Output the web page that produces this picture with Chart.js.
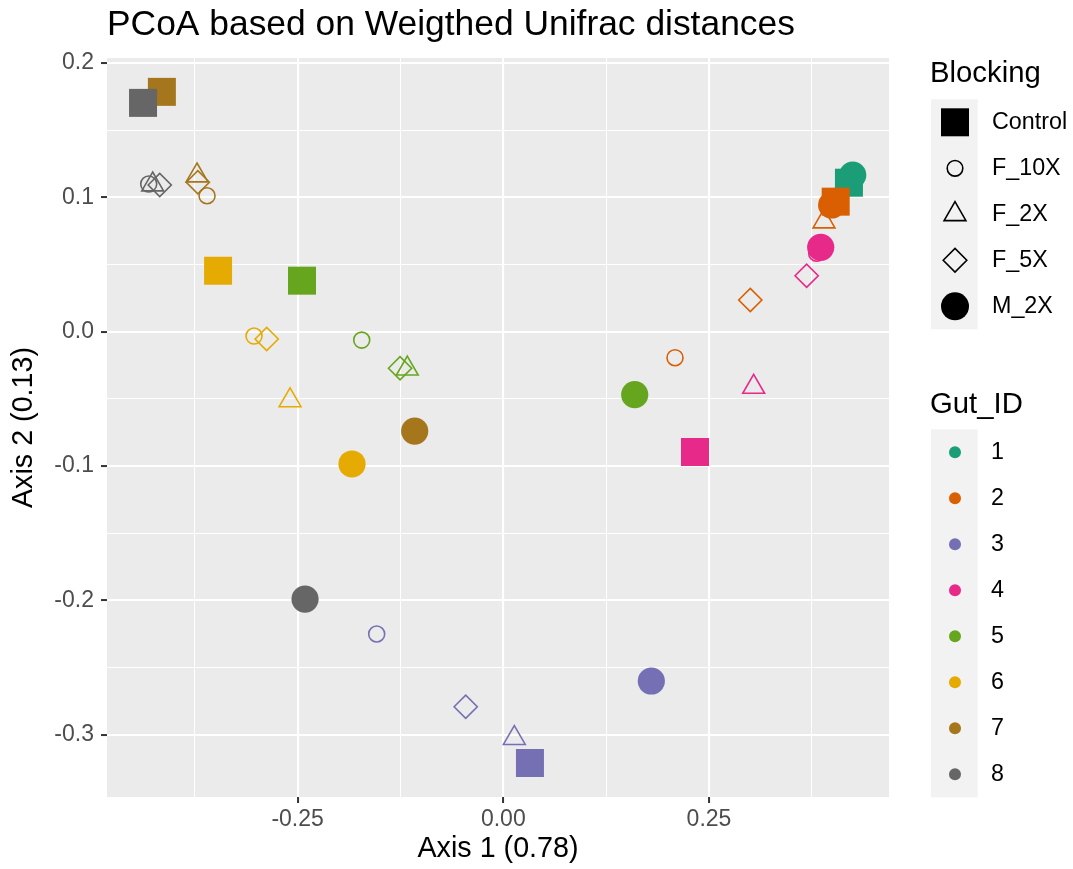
<!DOCTYPE html>
<html>
<head>
<meta charset="utf-8">
<script src="https://cdn.jsdelivr.net/npm/chart.js@4/dist/chart.umd.min.js"></script>
<style>
  html, body { margin: 0; padding: 0; background: #ffffff; }
  #wrap { width: 1073px; height: 869px; position: relative; }
</style>
</head>
<body>
<div id="wrap"><canvas id="pcoa" width="1073" height="869"></canvas></div>
<script>
// PCoA ordination of samples on weighted UniFrac distances
const FONT = '"Liberation Sans", Arial, Helvetica, sans-serif';

const gutIds = ['1', '2', '3', '4', '5', '6', '7', '8'];
const gutColors = ['#1B9E77', '#D95F02', '#7570B3', '#E7298A', '#66A61E', '#E6AB02', '#A6761D', '#666666'];
const blockingLevels = ['Control', 'F_10X', 'F_2X', 'F_5X', 'M_2X'];

// one entry per sample
const sampleGut = [
  '1', '1',
  '2', '2', '2', '2', '2',
  '3', '3', '3', '3', '3',
  '4', '4', '4', '4', '4',
  '5', '5', '5', '5', '5',
  '6', '6', '6', '6', '6',
  '7', '7', '7', '7', '7',
  '8', '8', '8', '8', '8'
];
const sampleBlocking = [
  'M_2X', 'Control',
  'F_10X', 'F_2X', 'F_5X', 'M_2X', 'Control',
  'F_10X', 'F_2X', 'F_5X', 'M_2X', 'Control',
  'F_10X', 'F_2X', 'F_5X', 'M_2X', 'Control',
  'F_10X', 'F_2X', 'F_5X', 'M_2X', 'Control',
  'F_10X', 'F_2X', 'F_5X', 'M_2X', 'Control',
  'F_10X', 'F_2X', 'F_5X', 'M_2X', 'Control',
  'F_10X', 'F_2X', 'F_5X', 'M_2X', 'Control'
];
const axis1 = [
  0.4247, 0.4201,
  0.2087, 0.3898, 0.3002, 0.3991, 0.4040,
  -0.1539, 0.0134, -0.0457, 0.1799, 0.0324,
  0.3809, 0.3043, 0.3687, 0.3858, 0.2330,
  -0.1721, -0.1167, -0.1255, 0.1597, -0.2447,
  -0.3030, -0.2592, -0.2876, -0.1839, -0.3467,
  -0.3601, -0.3723, -0.3713, -0.1077, -0.4150,
  -0.4310, -0.4262, -0.4176, -0.2410, -0.4379
];
const axis2 = [
  0.1165, 0.1108,
  -0.0194, 0.0819, 0.0235, 0.0942, 0.0967,
  -0.2250, -0.3025, -0.2791, -0.2600, -0.3210,
  0.0583, -0.0412, 0.0416, 0.0627, -0.0896,
  -0.0063, -0.0276, -0.0273, -0.0469, 0.0379,
  -0.0033, -0.0512, -0.0055, -0.0985, 0.0453,
  0.1011, 0.1161, 0.1111, -0.0740, 0.1784,
  0.1098, 0.1094, 0.1091, -0.1990, 0.1702
];

const xMajorTicks = [-0.25, 0, 0.25];
const xMinorTicks = [-0.375, -0.125, 0.125, 0.375];
const yMajorTicks = [-0.3, -0.2, -0.1, 0, 0.1, 0.2];
const yMinorTicks = [-0.25, -0.15, -0.05, 0.05, 0.15];

// marker look for each blocking level
const blockStyle = {
  Control: { shape: 'rect', radius: 19.8, filled: true, legendRadius: 19.8 },
  F_10X: { shape: 'circle', radius: 8, filled: false, legendRadius: 7.8 },
  F_2X: { shape: 'triangle', radius: 12.6, filled: false, legendRadius: 12.6 },
  F_5X: { shape: 'rectRot', radius: 11.6, filled: false, legendRadius: 11.8 },
  M_2X: { shape: 'circle', radius: 13.6, filled: true, legendRadius: 14 }
};

const isIn = (list, v) => list.some(t => Math.abs(t - v) < 1e-9);

const datasets = gutIds.map((g, gi) => {
  const idx = [];
  sampleGut.forEach((s, i) => { if (s === g) idx.push(i); });
  const col = gutColors[gi];
  return {
    label: g,
    order: gutIds.length - gi,
    data: idx.map(i => ({ x: axis1[i], y: axis2[i] })),
    pointStyle: idx.map(i => blockStyle[sampleBlocking[i]].shape),
    pointRadius: idx.map(i => blockStyle[sampleBlocking[i]].radius),
    pointBackgroundColor: idx.map(i => blockStyle[sampleBlocking[i]].filled ? col : 'rgba(0,0,0,0)'),
    pointBorderColor: col,
    pointBorderWidth: idx.map(i => blockStyle[sampleBlocking[i]].filled ? 0 : 1.6),
    showLine: false
  };
});

function drawShape(ctx, shape, r, x, y, filled, color) {
  ctx.save();
  ctx.beginPath();
  if (shape === 'circle') {
    ctx.arc(x, y, r, 0, Math.PI * 2);
  } else if (shape === 'rect') {
    const h = Math.SQRT1_2 * r;
    ctx.rect(x - h, y - h, 2 * h, 2 * h);
  } else if (shape === 'triangle') {
    ctx.moveTo(x, y - r);
    ctx.lineTo(x + Math.sin(2 * Math.PI / 3) * r, y + r / 2);
    ctx.lineTo(x - Math.sin(2 * Math.PI / 3) * r, y + r / 2);
    ctx.closePath();
  } else if (shape === 'rectRot') {
    ctx.moveTo(x - r, y);
    ctx.lineTo(x, y - r);
    ctx.lineTo(x + r, y);
    ctx.lineTo(x, y + r);
    ctx.closePath();
  }
  if (filled) {
    ctx.fillStyle = color;
    ctx.fill();
  } else {
    ctx.strokeStyle = color;
    ctx.lineWidth = 1.6;
    ctx.stroke();
  }
  ctx.restore();
}

const panelBackground = {
  id: 'panelBackground',
  beforeDraw(chart) {
    const { ctx, chartArea: a } = chart;
    ctx.save();
    ctx.fillStyle = '#ffffff';
    ctx.fillRect(0, 0, chart.width, chart.height);
    ctx.fillStyle = '#EBEBEB';
    ctx.fillRect(a.left, a.top, a.right - a.left, a.bottom - a.top);
    ctx.restore();
  }
};

const titleAndLegends = {
  id: 'titleAndLegends',
  afterDraw(chart) {
    const ctx = chart.ctx;
    ctx.save();
    // plot title
    ctx.fillStyle = '#000000';
    ctx.textAlign = 'left';
    ctx.textBaseline = 'alphabetic';
    ctx.font = '35.4px ' + FONT;
    ctx.fillText('PCoA based on Weigthed Unifrac distances', 107, 35);

    const keyX = 931, keyW = 46.7, keyH = 46, symX = 955, labelX = 992;

    // shape legend
    ctx.font = '29.3px ' + FONT;
    ctx.fillText('Blocking', 930, 82);
    const top1 = 99.3;
    ctx.fillStyle = '#F2F2F2';
    ctx.fillRect(keyX, top1, keyW, keyH * blockingLevels.length);
    blockingLevels.forEach((b, k) => {
      const cy = top1 + keyH * k + keyH / 2;
      const st = blockStyle[b];
      drawShape(ctx, st.shape, st.legendRadius, symX, cy, st.filled, '#000000');
      ctx.fillStyle = '#000000';
      ctx.font = '23.3px ' + FONT;
      ctx.textBaseline = 'middle';
      ctx.fillText(b, labelX, cy);
    });

    // colour legend
    ctx.textBaseline = 'alphabetic';
    ctx.fillStyle = '#000000';
    ctx.font = '29.3px ' + FONT;
    ctx.fillText('Gut_ID', 930, 412.7);
    const top2 = 429.3;
    ctx.fillStyle = '#F2F2F2';
    ctx.fillRect(keyX, top2, keyW, keyH * gutIds.length);
    gutIds.forEach((g, k) => {
      const cy = top2 + keyH * k + keyH / 2;
      drawShape(ctx, 'circle', 6, symX, cy, true, gutColors[k]);
      ctx.fillStyle = '#000000';
      ctx.font = '23.3px ' + FONT;
      ctx.textBaseline = 'middle';
      ctx.fillText(g, labelX - 1, cy);
    });
    ctx.restore();
  }
};

const gridFor = (major) => ({
  color: '#FFFFFF',
  lineWidth: c => (c.tick && isIn(major, c.tick.value)) ? 2.1 : 1.05,
  tickColor: c => (c.tick && isIn(major, c.tick.value)) ? '#333333' : 'rgba(0,0,0,0)',
  tickWidth: 2,
  tickLength: 6,
  drawTicks: true,
  drawOnChartArea: true
});

new Chart(document.getElementById('pcoa'), {
  type: 'scatter',
  data: { datasets },
  plugins: [panelBackground, titleAndLegends],
  options: {
    responsive: false,
    animation: false,
    devicePixelRatio: 1,
    events: [],
    layout: { padding: { top: 58, right: 184, bottom: 0, left: 0 } },
    plugins: {
      legend: { display: false },
      title: { display: false },
      tooltip: { enabled: false }
    },
    scales: {
      x: {
        type: 'linear',
        min: -0.4817,
        max: 0.4688,
        afterBuildTicks: s => {
          s.ticks = xMinorTicks.concat(xMajorTicks).sort((a, b) => a - b).map(v => ({ value: v }));
        },
        afterFit: s => { s.height = 72; },
        border: { display: false },
        grid: gridFor(xMajorTicks),
        ticks: {
          autoSkip: false,
          maxRotation: 0,
          padding: 3,
          color: '#4D4D4D',
          font: { family: FONT, size: 23 },
          callback: v => isIn(xMajorTicks, v) ? v.toFixed(2) : ''
        },
        title: {
          display: true,
          text: 'Axis 1 (0.78)',
          color: '#000000',
          font: { family: FONT, size: 28.7, lineHeight: 1 },
          padding: { top: 0, bottom: 6 }
        }
      },
      y: {
        type: 'linear',
        min: -0.3463,
        max: 0.2036,
        afterBuildTicks: s => {
          s.ticks = yMinorTicks.concat(yMajorTicks).sort((a, b) => a - b).map(v => ({ value: v }));
        },
        afterFit: s => { s.width = 107; },
        border: { display: false },
        grid: gridFor(yMajorTicks),
        ticks: {
          autoSkip: false,
          padding: 7,
          color: '#4D4D4D',
          font: { family: FONT, size: 23 },
          callback: v => isIn(yMajorTicks, v) ? v.toFixed(1) : ''
        },
        title: {
          display: true,
          text: 'Axis 2 (0.13)',
          color: '#000000',
          font: { family: FONT, size: 28.7, lineHeight: 1 },
          padding: { top: 10, bottom: 0 }
        }
      }
    }
  }
});
</script>
</body>
</html>
